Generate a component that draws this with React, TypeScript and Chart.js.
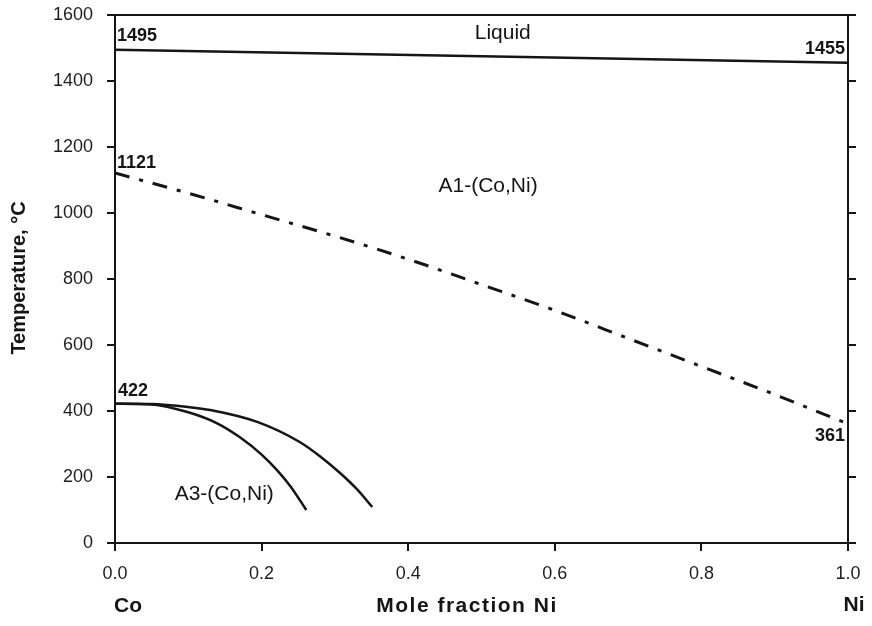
import React, { useEffect, useRef } from "react";
import { Chart, registerables } from "chart.js";

Chart.register(...registerables);

// Phase boundaries of the Co–Ni system (x = mole fraction Ni, y = temperature °C)
const liquidusX = [0, 1];
const liquidusT = [1495, 1455];

const curieX = [0, 0.1, 0.2, 0.3, 0.4, 0.5, 0.6, 0.7, 0.8, 0.9, 1];
const curieT = [1121, 1060, 995, 930, 860, 783, 705, 620, 535, 450, 361];

const a3InnerX = [0, 0.05, 0.1, 0.14, 0.17, 0.2, 0.221, 0.24, 0.261];
const a3InnerT = [422, 420, 396, 362, 321, 268, 221, 170, 100];

const a3OuterX = [0, 0.05, 0.1, 0.13, 0.194, 0.252, 0.28, 0.307, 0.33, 0.351];
const a3OuterT = [422, 421, 412, 403, 367, 306, 262, 212, 163, 109];

const xTicks = [0, 0.2, 0.4, 0.6, 0.8, 1.0];
const yTicks = [0, 200, 400, 600, 800, 1000, 1200, 1400, 1600];

const INK = "#151515";
const FONT = "'Liberation Sans', Arial, sans-serif";

const pts = (xs: number[], ys: number[]) => xs.map((x, i) => ({ x, y: ys[i] }));

const decorations = {
  id: "decorations",
  afterDraw(chart: any) {
    const { ctx, chartArea } = chart;
    const xs = chart.scales.x;
    const ys = chart.scales.y;
    const { left, right, top, bottom } = chartArea;
    ctx.save();
    ctx.strokeStyle = INK;
    ctx.lineWidth = 2;

    // top frame line
    ctx.beginPath();
    ctx.moveTo(left - 8, top);
    ctx.lineTo(right + 8, top);
    ctx.stroke();

    // right axis with outward ticks
    ctx.beginPath();
    ctx.moveTo(right, top);
    ctx.lineTo(right, bottom);
    yTicks.forEach((v) => {
      const py = ys.getPixelForValue(v);
      ctx.moveTo(right, py);
      ctx.lineTo(right + 8, py);
    });
    ctx.stroke();

    ctx.fillStyle = INK;
    const text = (
      s: string,
      px: number,
      py: number,
      font: string,
      align: CanvasTextAlign,
      base: CanvasTextBaseline,
      spacing = "0px"
    ) => {
      ctx.font = font;
      ctx.textAlign = align;
      ctx.textBaseline = base;
      (ctx as any).letterSpacing = spacing;
      ctx.fillText(s, px, py);
      (ctx as any).letterSpacing = "0px";
    };
    const bold = `bold 18px ${FONT}`;
    const region = `21px ${FONT}`;

    // boundary temperatures
    text("1495", left + 2, ys.getPixelForValue(1495) - 5, bold, "left", "bottom");
    text("1455", right - 3, ys.getPixelForValue(1455) - 5, bold, "right", "bottom");
    text("1121", left + 2, ys.getPixelForValue(1121) - 1, bold, "left", "bottom");
    text("422", left + 3, ys.getPixelForValue(422) - 4, bold, "left", "bottom");
    text("361", right - 3, ys.getPixelForValue(361) + 3, bold, "right", "top");

    // phase fields
    text("Liquid", xs.getPixelForValue(0.529), ys.getPixelForValue(1545), region, "center", "middle");
    text("A1-(Co,Ni)", xs.getPixelForValue(0.509), ys.getPixelForValue(1082), region, "center", "middle");
    text("A3-(Co,Ni)", xs.getPixelForValue(0.149), ys.getPixelForValue(148), region, "center", "middle");

    // axis titles
    const title = `bold 21px ${FONT}`;
    text("Co", left + 13, 606, title, "center", "middle");
    text("Mole fraction Ni", 467, 606, title, "center", "middle", "1.5px");
    text("Ni", right + 6, 605, title, "center", "middle");
    ctx.translate(19, 278);
    ctx.rotate(-Math.PI / 2);
    text("Temperature, °C", 0, 0, `bold 20px ${FONT}`, "center", "middle");
    ctx.restore();
  },
};

export default function App() {
  const ref = useRef<HTMLCanvasElement | null>(null);

  useEffect(() => {
    if (!ref.current) return;
    const line = (data: any[], extra: any = {}) => ({
      data,
      borderColor: INK,
      borderWidth: 2.5,
      pointRadius: 0,
      showLine: true,
      fill: false,
      ...extra,
    });
    const chart = new Chart(ref.current, {
      type: "scatter",
      data: {
        datasets: [
          line(pts(liquidusX, liquidusT)),
          line(pts(curieX, curieT), { borderWidth: 3, borderDash: [15, 10, 4, 10], cubicInterpolationMode: "monotone" }),
          line(pts(a3InnerX, a3InnerT), { cubicInterpolationMode: "monotone" }),
          line(pts(a3OuterX, a3OuterT), { cubicInterpolationMode: "monotone" }),
        ],
      },
      options: {
        animation: false,
        responsive: false,
        devicePixelRatio: 1,
        layout: { padding: { top: 15, right: 24, left: 0, bottom: 0 } },
        plugins: { legend: { display: false }, tooltip: { enabled: false } },
        scales: {
          x: {
            type: "linear",
            min: 0,
            max: 1,
            afterBuildTicks: (axis: any) => {
              axis.ticks = xTicks.map((v) => ({ value: v }));
            },
            afterFit: (axis: any) => {
              axis.height = 83;
              axis.paddingLeft = 0;
              axis.paddingRight = 0;
            },
            grid: { drawOnChartArea: false, drawTicks: true, tickLength: 8, color: INK, lineWidth: 2 },
            border: { display: true, color: INK, width: 2 },
            ticks: {
              color: "#1e1e1e",
              padding: 12,
              maxRotation: 0,
              font: { family: FONT, size: 18 },
              callback: (v: any) => Number(v).toFixed(1),
            },
          },
          y: {
            type: "linear",
            min: 0,
            max: 1600,
            afterBuildTicks: (axis: any) => {
              axis.ticks = yTicks.map((v) => ({ value: v }));
            },
            afterFit: (axis: any) => {
              axis.width = 115;
              axis.paddingTop = 0;
              axis.paddingBottom = 0;
            },
            grid: { drawOnChartArea: false, drawTicks: true, tickLength: 8, color: INK, lineWidth: 2 },
            border: { display: true, color: INK, width: 2 },
            ticks: {
              color: "#1e1e1e",
              padding: 14,
              font: { family: FONT, size: 18 },
              callback: (v: any) => String(v),
            },
          },
        },
      },
      plugins: [decorations],
    });
    return () => chart.destroy();
  }, []);

  return (
    <div style={{ position: "fixed", left: 0, top: 0, width: 872, height: 626, background: "#fff" }}>
      <canvas ref={ref} width={872} height={626} />
    </div>
  );
}
